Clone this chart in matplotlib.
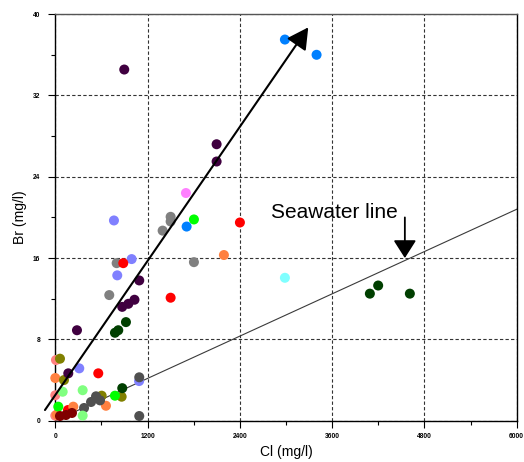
import matplotlib
matplotlib.use("Agg")
import matplotlib.pyplot as plt
from matplotlib.ticker import MultipleLocator

# Cl (mg/l) and Br (mg/l) per sample group
blue_cl = [2986, 3398, 1708]
blue_br = [37.5, 36.0, 19.1]

purple_cl = [897, 2098, 2098, 1092, 870, 950, 1030, 282, 169]
purple_br = [34.55, 27.2, 25.5, 13.8, 11.2, 11.5, 11.9, 8.9, 4.66]

dkgreen_cl = [919, 819, 776, 871, 4199, 4091, 4611]
dkgreen_br = [9.7, 8.9, 8.65, 3.2, 13.3, 12.5, 12.5]

gray_cl = [1500, 1500, 1396, 1803, 798, 702]
gray_br = [20.06, 19.6, 18.7, 15.6, 15.5, 12.36]

ltblue_cl = [312, 993, 806, 763, 1090]
ltblue_br = [5.15, 15.9, 14.3, 19.7, 3.9]

dimgray_cl = [1092, 1092, 374, 465, 530, 582]
dimgray_br = [4.27, 0.46, 1.25, 1.84, 2.4, 2.0]

olive_cl = [61, 113, 603, 863]
olive_br = [6.1, 4.0, 2.46, 2.36]

salmon_cl = [9, 0, 0]
salmon_br = [5.97, 2.5, 0.5]

orange_cl = [0, 234, 659, 2193, 20]
orange_br = [4.2, 1.38, 1.47, 16.3, 0.6]

red_cl = [884, 1500, 2401, 559, 165, 169]
red_br = [15.5, 12.1, 19.5, 4.66, 1.05, 0.9]

ltgreen_cl = [356, 96, 356]
ltgreen_br = [3.0, 2.85, 0.5]

green_cl = [39, 776, 1803]
green_br = [1.38, 2.46, 19.8]

pink_cl = [1699]
pink_br = [22.4]

cyan_cl = [2986]
cyan_br = [14.06]

maroon_cl = [61, 139, 217]
maroon_br = [0.46, 0.56, 0.76]

seawater_ratio = 20.8 / 6000

groups = [
    (gray_cl, gray_br, "#808080"),
    (ltblue_cl, ltblue_br, "#8080FF"),
    (red_cl, red_br, "#FF0000"),
    (salmon_cl, salmon_br, "#FF8080"),
    (orange_cl, orange_br, "#FF8040"),
    (olive_cl, olive_br, "#808000"),
    (dimgray_cl, dimgray_br, "#505050"),
    (ltgreen_cl, ltgreen_br, "#80FF80"),
    (green_cl, green_br, "#00FF00"),
    (purple_cl, purple_br, "#400040"),
    (dkgreen_cl, dkgreen_br, "#003F00"),
    (maroon_cl, maroon_br, "#800000"),
    (blue_cl, blue_br, "#0080FF"),
    (pink_cl, pink_br, "#FF80FF"),
    (cyan_cl, cyan_br, "#80FFFF"),
]

fig = plt.figure(figsize=(5.24, 4.62), dpi=100)
ax = fig.add_axes([0.1055, 0.0894, 0.8805, 0.880])

for xs, ys, c in groups:
    ax.scatter(xs, ys, s=52, color=c, edgecolors="none", zorder=3, clip_on=False)

# seawater line
ax.plot([0, 6000], [0, 6000 * seawater_ratio], color="#3a3a3a", lw=0.8, zorder=2)

# trend arrow
ax.annotate("", xy=(3290, 38.7), xytext=(-134, 1.05), annotation_clip=False,
            arrowprops=dict(arrowstyle="-|>,head_length=1.3,head_width=0.7",
                            color="black", lw=1.5, shrinkA=0, shrinkB=0),
            zorder=4)

ax.text(2806, 20.5, "Seawater line", fontsize=15, family="Liberation Sans",
        ha="left", va="center")
ax.annotate("", xy=(4546, 16.0), xytext=(4546, 20.0),
            arrowprops=dict(arrowstyle="-|>,head_length=1.1,head_width=0.7",
                            color="black", lw=1.3, shrinkA=0, shrinkB=0),
            zorder=4)

ax.set_xlim(0, 6000)
ax.set_ylim(0, 40)
ax.xaxis.set_major_locator(MultipleLocator(1200))
ax.xaxis.set_minor_locator(MultipleLocator(600))
ax.yaxis.set_major_locator(MultipleLocator(8))
ax.yaxis.set_minor_locator(MultipleLocator(4))
ax.tick_params(which="major", length=5, width=0.8, labelsize=4.8)
ax.tick_params(axis="x", which="major", pad=4)
ax.tick_params(axis="y", which="major", pad=6)
ax.tick_params(which="minor", length=3, width=0.8)
for lab in ax.get_xticklabels() + ax.get_yticklabels():
    lab.set_fontweight("bold")
    lab.set_family("Liberation Sans")

ax.grid(True, which="major", linestyle=(0, (3, 2)), color="#333333", lw=0.8)
ax.set_axisbelow(True)
for sp in ax.spines.values():
    sp.set_linewidth(1.0)
ax.spines["top"].set_color("#555555")

ax.set_xlabel("Cl (mg/l)", fontsize=10, family="Liberation Sans", va="center")
ax.set_ylabel("Br (mg/l)", fontsize=10, family="Liberation Sans", va="center")
ax.xaxis.set_label_coords(0.5, -0.077)
ax.yaxis.set_label_coords(-0.0765, 0.5)

fig.savefig("out.png", dpi=100)
